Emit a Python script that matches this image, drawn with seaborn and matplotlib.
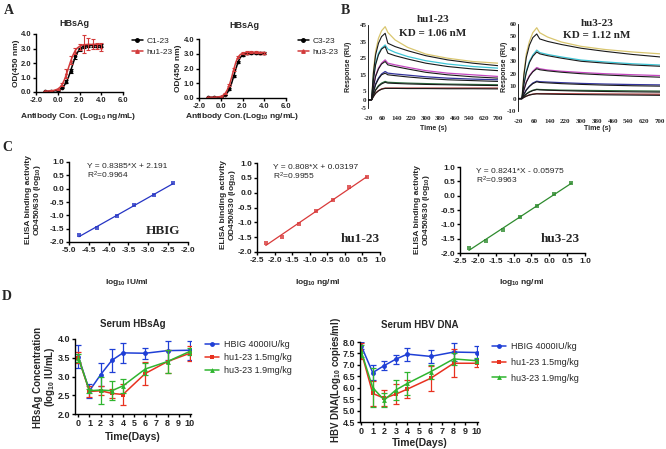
import numpy as np
import pandas as pd
import matplotlib
matplotlib.use("Agg")
import matplotlib.pyplot as plt
import seaborn as sns
from matplotlib.lines import Line2D
from matplotlib.ticker import FormatStrFormatter

# ---------------- data ----------------
# A: ELISA binding curves
a_x = [-1.2, -0.6, 0.0, 0.4, 0.8, 1.2, 1.6, 2.0, 2.4, 2.8, 3.2, 3.6, 4.0]
c1_od = [0.05, 0.06, 0.12, 0.30, 0.70, 1.45, 2.45, 2.95, 3.15, 3.20, 3.22, 3.20, 3.20]
c1_err = [0.02, 0.02, 0.03, 0.05, 0.10, 0.15, 0.15, 0.10, 0.10, 0.10, 0.10, 0.10, 0.10]
hu1_od = [0.06, 0.08, 0.18, 0.50, 1.30, 2.20, 2.85, 3.10, 3.30, 3.30, 3.30, 3.20, 3.10]
hu1_err = [0.02, 0.03, 0.05, 0.10, 0.30, 0.25, 0.20, 0.20, 0.60, 0.40, 0.35, 0.20, 0.30]
c3_od = [0.05, 0.05, 0.08, 0.20, 0.60, 1.50, 2.45, 2.90, 3.02, 3.04, 3.05, 3.05, 3.05]
c3_err = [0.02, 0.02, 0.02, 0.03, 0.05, 0.08, 0.08, 0.06, 0.06, 0.06, 0.06, 0.06, 0.06]
hu3_od = [0.06, 0.07, 0.10, 0.30, 0.90, 1.95, 2.78, 3.03, 3.08, 3.10, 3.10, 3.08, 3.05]
hu3_err = [0.02, 0.02, 0.03, 0.05, 0.08, 0.10, 0.10, 0.08, 0.08, 0.08, 0.08, 0.06, 0.06]
a_fit_x = [-1.2, -0.8, -0.4, 0.0, 0.2, 0.4, 0.6, 0.8, 1.0, 1.2, 1.4, 1.6, 1.8, 2.0, 2.2, 2.4, 2.8, 3.2, 3.6, 4.0]
c1_fit = [0.05, 0.05, 0.07, 0.12, 0.18, 0.28, 0.45, 0.70, 1.05, 1.50, 1.95, 2.40, 2.70, 2.95, 3.08, 3.15, 3.20, 3.22, 3.22, 3.22]
hu1_fit = [0.06, 0.07, 0.10, 0.20, 0.32, 0.52, 0.82, 1.22, 1.70, 2.15, 2.55, 2.85, 3.03, 3.15, 3.22, 3.26, 3.28, 3.28, 3.28, 3.28]
c3_fit = [0.05, 0.05, 0.05, 0.08, 0.12, 0.20, 0.35, 0.60, 1.00, 1.50, 2.00, 2.45, 2.75, 2.90, 2.98, 3.02, 3.04, 3.05, 3.05, 3.05]
hu3_fit = [0.05, 0.05, 0.06, 0.10, 0.18, 0.30, 0.55, 0.90, 1.40, 1.95, 2.45, 2.78, 2.95, 3.03, 3.07, 3.08, 3.09, 3.09, 3.09, 3.09]

# B: SPR sensorgrams (RU), coloured = measured, black = fit
b_t = [-20, 0, 10, 22, 38, 55, 75, 90, 130, 200, 300, 420, 560, 700]
b_colors = ["#d9c66f", "#3fc6d6", "#c447c0", "#33339c", "#2e6b3e", "#a83232"]
hu1_spr = [
    [0, 0, 17, 29, 37, 41.5, 44, 40.5, 36, 31.5, 27.5, 25, 23, 22],
    [0, 0, 13, 22, 28, 31, 33, 30.5, 28.5, 26, 23.5, 21.5, 20, 19],
    [0, 0, 8, 14.5, 19, 22, 24, 22, 21, 19.5, 17.5, 16, 15, 14],
    [0, 0, 5, 9.5, 13, 15.5, 17, 16, 15.5, 14.8, 13.8, 13, 12.4, 12],
    [0, 0, 3, 6, 8.5, 10, 11, 10.5, 10.3, 10, 9.7, 9.4, 9.2, 9],
    [0, 0, 2, 4, 5.5, 6.5, 7, 7, 7, 7, 7, 7, 7, 7],
]
hu1_spr_fit = [
    [0, 0, 16, 27, 34, 38, 40, 34, 32, 29.5, 26.5, 24, 22, 20.5],
    [0, 0, 12, 21, 27, 30.5, 32, 28, 26.5, 24.5, 22, 20, 18.5, 17.5],
    [0, 0, 7.5, 14, 18.5, 21.5, 23, 21, 20, 18.5, 16.5, 15, 13.8, 13],
    [0, 0, 4.5, 9, 12.5, 15, 16, 15, 14.5, 13.7, 12.8, 12, 11.5, 11],
    [0, 0, 2.8, 5.7, 8, 9.5, 10.5, 10, 9.8, 9.5, 9.2, 9, 8.7, 8.5],
    [0, 0, 1.8, 3.8, 5.3, 6.3, 6.8, 6.8, 6.8, 6.7, 6.7, 6.6, 6.6, 6.5],
]
hu3_spr = [
    [0, 0, 20, 36, 46, 53, 57, 53, 49.5, 45.5, 42, 39.5, 37.5, 36],
    [0, 0, 12, 22, 30, 35, 39, 37, 35.5, 33.5, 31, 29.5, 28, 27],
    [0, 0, 7, 13.5, 18.5, 22, 25, 24, 23, 22, 21, 20, 19.2, 18.5],
    [0, 0, 3.5, 7, 10, 12.5, 14, 13.6, 13.3, 12.8, 12.2, 11.7, 11.3, 11],
    [0, 0, 1.8, 3.8, 5.5, 6.7, 7.5, 7.3, 7.1, 6.8, 6.6, 6.4, 6.2, 6],
    [0, 0, 1, 2, 3, 3.6, 4, 4, 4, 3.9, 3.8, 3.7, 3.6, 3.5],
]
hu3_spr_fit = [
    [0, 0, 19, 33, 43, 49, 52, 48, 46, 43.5, 40.5, 38, 35.5, 33.5],
    [0, 0, 11.5, 21, 29, 34, 37.5, 36, 34.5, 32.5, 30, 28.5, 27, 26],
    [0, 0, 6.8, 13, 18, 21.5, 24, 23.2, 22.3, 21.2, 20, 19, 18, 17.2],
    [0, 0, 3.3, 6.8, 9.7, 12, 13.5, 13, 12.6, 12, 11.4, 10.8, 10.3, 10],
    [0, 0, 1.7, 3.6, 5.2, 6.4, 7.2, 7, 6.7, 6.4, 6, 5.7, 5.4, 5.2],
    [0, 0, 0.9, 1.9, 2.8, 3.4, 3.8, 3.7, 3.6, 3.4, 3.2, 3.0, 2.8, 2.6],
]

# C: standard curves
hbig_x = [-4.75, -4.30, -3.80, -3.35, -2.85, -2.38]
hbig_y = [-1.75, -1.48, -1.03, -0.60, -0.22, 0.20]
std_x = [-2.25, -1.78, -1.30, -0.82, -0.35, 0.13, 0.62]
hu1_std_y = [-1.70, -1.48, -1.05, -0.62, -0.25, 0.18, 0.52]
hu3_std_y = [-1.82, -1.58, -1.20, -0.75, -0.35, 0.05, 0.45]

# D: in vivo time courses
days = [0, 1, 2, 3, 4, 6, 8, 10]
hbsag_hbig = [3.53, 2.62, 3.05, 3.43, 3.63, 3.62, 3.69, 3.70]
hbsag_hbig_err = [0.30, 0.18, 0.30, 0.30, 0.26, 0.14, 0.25, 0.25]
hbsag_hu1 = [3.50, 2.60, 2.62, 2.55, 2.52, 3.08, 3.40, 3.62]
hbsag_hu1_err = [0.15, 0.15, 0.12, 0.12, 0.27, 0.30, 0.30, 0.20]
hbsag_hu3 = [3.50, 2.62, 2.64, 2.62, 2.75, 3.20, 3.40, 3.67]
hbsag_hu3_err = [0.10, 0.05, 0.36, 0.25, 0.19, 0.15, 0.30, 0.10]
dna_hbig = [7.84, 6.66, 6.97, 7.25, 7.47, 7.37, 7.56, 7.54]
dna_hbig_err = [0.15, 0.32, 0.20, 0.20, 0.28, 0.28, 0.40, 0.30]
dna_hu1 = [7.59, 5.75, 5.54, 5.72, 5.94, 6.41, 7.07, 7.07]
dna_hu1_err = [0.35, 0.55, 0.35, 0.45, 0.40, 0.55, 0.62, 0.15]
dna_hu3 = [7.60, 6.00, 5.46, 5.90, 6.19, 6.70, 7.26, 7.18]
dna_hu3_err = [0.25, 0.85, 0.30, 0.45, 0.50, 0.30, 0.25, 0.10]
d_labels = ["HBIG 4000IU/kg", "hu1-23 1.5mg/kg", "hu3-23 1.9mg/kg"]
d_colors = ["#1f3fd6", "#e8311f", "#2fb52f"]
d_markers = ["o", "s", "^"]

# ---------------- figure ----------------
sns.set_style("ticks")
plt.rcParams["font.family"] = ["Liberation Sans", "DejaVu Sans"]
plt.rcParams["axes.unicode_minus"] = False
plt.rcParams["mathtext.default"] = "regular"

W, H = 666, 449
fig = plt.figure(figsize=(W / 100, H / 100), dpi=100)


def add_ax(l, t, r, b):
    ax = fig.add_axes([l / W, 1 - b / H, (r - l) / W, (b - t) / H])
    ax.patch.set_alpha(0)
    return ax


def ftext(px, py, s, **kw):
    kw.setdefault("ha", "center")
    kw.setdefault("va", "center")
    fig.text(px / W, 1 - py / H, s, **kw)


def style(ax, size, family="Liberation Sans", lw=1.0):
    sns.despine(ax=ax)
    ax.tick_params(labelsize=size, length=2.5, width=lw, pad=1, color="black")
    for s in ["left", "bottom"]:
        ax.spines[s].set_linewidth(lw)
        ax.spines[s].set_color("black")
    for lab in ax.get_xticklabels() + ax.get_yticklabels():
        lab.set_fontweight("bold")
        lab.set_family(family)
    ax.set_xlabel("")
    ax.set_ylabel("")


serif = "Liberation Serif"
bold = dict(fontweight="bold")

# panel letters
for px, py, s in [(9, 10, "A"), (345, 11, "B"), (7, 148, "C"), (7, 297, "D")]:
    ftext(px, py, s, family=serif, fontsize=10, **bold)

# ---------------- A ----------------
a_red = "#d23a3a"
a_sets = [
    ((36, 34, 123, 92), c1_od, c1_err, c1_fit, hu1_od, hu1_err, hu1_fit, ["C1-23", "hu1-23"], 132),
    ((199, 39, 286, 98), c3_od, c3_err, c3_fit, hu3_od, hu3_err, hu3_fit, ["C3-23", "hu3-23"], 298),
]
for rect, k_y, k_e, k_f, r_y, r_e, r_f, names, leg_x in a_sets:
    ax = add_ax(*rect)
    for y, e, f, c, m in [(k_y, k_e, k_f, "black", "o"), (r_y, r_e, r_f, a_red, "^")]:
        ax.errorbar(a_x, y, yerr=e, fmt="none", ecolor=c, elinewidth=0.8, capsize=1.5, capthick=0.8)
        sns.lineplot(x=a_fit_x, y=f, color=c, lw=1.1, sort=False, estimator=None, ax=ax)
        sns.scatterplot(x=a_x, y=y, color=c, marker=m, s=7, edgecolor=c, linewidth=0, ax=ax)
    ax.set_xlim(-2, 6)
    ax.set_ylim(0, 4)
    ax.set_xticks([-2, 0, 2, 4, 6])
    ax.set_yticks([0, 1, 2, 3, 4])
    ax.xaxis.set_major_formatter(FormatStrFormatter("%.1f"))
    ax.yaxis.set_major_formatter(FormatStrFormatter("%.1f"))
    style(ax, 5.5)
    handles = [Line2D([], [], color="black", marker="o", ms=2.5, lw=1.1),
               Line2D([], [], color=a_red, marker="^", ms=2.5, lw=1.1)]
    fig.legend(handles=handles, labels=names, loc="upper left",
               bbox_to_anchor=(leg_x / W, 1 - 37 / H), frameon=False, fontsize=6,
               handlelength=1.3, handletextpad=0.4, labelspacing=0.35, borderaxespad=0, borderpad=0)

ftext(74, 23, "HBsAg", fontsize=6.5, **bold)
ftext(16, 63, "OD(450 nm)", fontsize=6, rotation=90, **bold)
ftext(78, 117, "Antibody Con. (Log$_{10}$ ng/mL)", fontsize=6, **bold)
ftext(244, 25, "HBsAg", fontsize=6.5, **bold)
ftext(179, 68, "OD(450 nm)", fontsize=6, rotation=90, **bold)
ftext(242, 116, "Antibody Con.(Log$_{10}$ ng/mL)", fontsize=6, **bold)

# ---------------- B ----------------
b_sets = [
    ((368, 25, 498, 108), hu1_spr, hu1_spr_fit, (-5, 45), [-5, 0, 5, 15, 25, 35, 45], 348, 433,
     "hu1-23", "KD = 1.06 nM", 20, 33),
    ((518, 24, 660, 111), hu3_spr, hu3_spr_fit, (-10, 60), [-10, 0, 10, 20, 30, 40, 50, 60], 505, 597,
     "hu3-23", "KD = 1.12 nM", 24, 36),
]
for rect, meas, fit, ylim, yt, ylab_x, cx, name, kd, name_y, kd_y in b_sets:
    ax = add_ax(*rect)
    for vals, c in zip(meas, b_colors):
        sns.lineplot(x=b_t, y=vals, color=c, lw=0.9, sort=False, estimator=None, ax=ax)
    for vals in fit:
        sns.lineplot(x=b_t, y=vals, color="#1a1a1a", lw=0.8, sort=False, estimator=None, ax=ax)
    ax.set_xlim(-20, 700)
    ax.set_ylim(*ylim)
    ax.set_xticks([-20, 60, 140, 220, 300, 380, 460, 540, 620, 700])
    ax.set_yticks(yt)
    style(ax, 5, family=serif, lw=0.6)
    ax.tick_params(length=0)
    ax.tick_params(axis="x", pad=6)
    ax.spines["bottom"].set_visible(False)
    ftext(ylab_x, 67, "Response (RU)", fontsize=5, rotation=90, **bold)
    ftext(cx, 128, "Time (s)", fontsize=5, **bold)
    ftext(cx, name_y, name, family=serif, fontsize=8, **bold)
    ftext(cx, kd_y, kd, family=serif, fontsize=8, **bold)

# ---------------- C ----------------
c_sets = [
    ((69, 162, 188, 242), hbig_x, hbig_y, "#2534c4", (-5, -2), [-5, -4.5, -4, -3.5, -3, -2.5, -2],
     "Y = 0.8385*X + 2.191\nR$^2$=0.9964", (-4.55, 0.95), "HBIG", (-2.62, -1.58),
     34, 200, 127, "log$_{10}$ IU/ml"),
    ((257, 163, 380, 252), std_x, hu1_std_y, "#d93a3a", (-2.5, 1.0), [-2.5, -2, -1.5, -1, -0.5, 0, 0.5, 1],
     "Y = 0.808*X + 0.03197\nR$^2$=0.9955", (-2.05, 0.95), "hu1-23", (0.45, -1.55),
     229, 205, 318, "log$_{10}$ ng/ml"),
    ((460, 167, 585, 253), std_x, hu3_std_y, "#2e8b2e", (-2.5, 1.0), [-2.5, -2, -1.5, -1, -0.5, 0, 0.5, 1],
     "Y = 0.8241*X - 0.05975\nR$^2$=0.9963", (-2.05, 0.95), "hu3-23", (0.3, -1.5),
     423, 210, 522, "log$_{10}$ ng/ml"),
]
for rect, x, y, c, xlim, xt, eq, eq_xy, name, name_xy, ylx, yly, xlx, xlab in c_sets:
    ax = add_ax(*rect)
    sns.regplot(x=x, y=y, ci=None, color=c, marker="s", truncate=True,
                scatter_kws={"s": 5, "linewidths": 0}, line_kws={"lw": 0.9}, ax=ax)
    ax.set_xlim(*xlim)
    ax.set_ylim(-2, 1)
    ax.set_xticks(xt)
    ax.set_yticks([-2, -1.5, -1, -0.5, 0, 0.5, 1])
    ax.xaxis.set_major_formatter(FormatStrFormatter("%.1f"))
    ax.yaxis.set_major_formatter(FormatStrFormatter("%.1f"))
    style(ax, 6)
    ax.text(eq_xy[0], eq_xy[1], eq, fontsize=6, va="top", ha="left", linespacing=0.9)
    ax.text(name_xy[0], name_xy[1], name, family=serif, fontsize=9.5, ha="center", va="center", **bold)
    ftext(ylx, yly, "ELISA binding activity\nOD450/630 (log$_{10}$)", fontsize=6, rotation=90,
          linespacing=1.0, **bold)
    ftext(xlx, 282, xlab, fontsize=6, **bold)

# ---------------- D ----------------
d_sets = [
    ((75, 339, 191, 414), [hbsag_hbig, hbsag_hu1, hbsag_hu3], [hbsag_hbig_err, hbsag_hu1_err, hbsag_hu3_err],
     (2, 4), [2.0, 2.5, 3.0, 3.5, 4.0], (-0.3, 10.1), 133, "Serum HBsAg", 437, (205, 340), 0.45),
    ((360, 342, 478, 422), [dna_hbig, dna_hu1, dna_hu3], [dna_hbig_err, dna_hu1_err, dna_hu3_err],
     (4.5, 8), [4.5, 5.0, 5.5, 6.0, 6.5, 7.0, 7.5, 8.0], (-0.1, 10.1), 420, "Serum HBV DNA", 443, (492, 342), 0.75),
]
for rect, series, errs, ylim, yt, xlim, cx, title, xl_y, leg_xy, lsp in d_sets:
    ax = add_ax(*rect)
    for y, e, c, m in zip(series, errs, d_colors, d_markers):
        ax.errorbar(days, y, yerr=e, fmt="none", ecolor=c, elinewidth=0.9, capsize=2, capthick=0.9)
        sns.lineplot(x=days, y=y, color=c, lw=1.1, marker=m, markersize=3.5, markeredgewidth=0,
                     sort=False, estimator=None, ax=ax)
    ax.set_xlim(*xlim)
    ax.set_ylim(*ylim)
    ax.set_xticks(range(0, 11))
    ax.set_yticks(yt)
    ax.yaxis.set_major_formatter(FormatStrFormatter("%.1f"))
    style(ax, 6.5)
    ftext(cx, 324 if title == "Serum HBsAg" else 325, title, fontsize=7, **bold)
    ftext(cx, xl_y, "Time(Days)", fontsize=7.5, **bold)
    handles = [Line2D([], [], color=c, marker=m, ms=3.5, mew=0, lw=1.1) for c, m in zip(d_colors, d_markers)]
    fig.legend(handles=handles, labels=d_labels, loc="upper left",
               bbox_to_anchor=(leg_xy[0] / W, 1 - leg_xy[1] / H), frameon=False, fontsize=6.5,
               handlelength=1.6, handletextpad=0.5, labelspacing=lsp, borderaxespad=0, borderpad=0)

ftext(45, 377, "HBsAg Concentration\n(log$_{10}$ IU/mL)", fontsize=7, rotation=90, linespacing=0.95, **bold)
ftext(336, 380, "HBV DNA(Log$_{10}$ copies/ml)", fontsize=7, rotation=90, **bold)

fig.savefig("out.png", dpi=100)
